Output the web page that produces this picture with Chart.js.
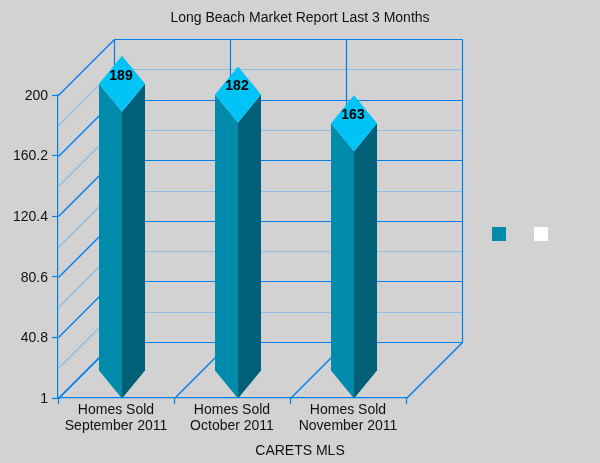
<!DOCTYPE html>
<html>
<head>
<meta charset="utf-8">
<title>Long Beach Market Report</title>
<script src="https://cdn.jsdelivr.net/npm/chart.js@4"></script>
<style>
    html, body { margin: 0; padding: 0; background: #d2d2d2; }
    canvas { display: block; }
</style>
</head>
<body>
<canvas id="chart" width="600" height="463"></canvas>
<script>
const categories = [
    ['Homes Sold', 'September 2011'],
    ['Homes Sold', 'October 2011'],
    ['Homes Sold', 'November 2011'],
];
const homesSold = [189, 182, 163];
const yTicks = [1, 40.8, 80.6, 120.4, 160.2, 200];
const legendColors = ['#008bab', '#ffffff'];

const FONT = '"Liberation Sans", Arial, sans-serif';
const GRID_MAJOR = '#0080ee';
const GRID_MINOR = '#90bde4';
const FACE_LEFT = '#008bab';
const FACE_RIGHT = '#006078';
const FACE_TOP = '#00c4f5';
const DEPTH = 56;       // how far the back wall sits from the front plane
const BAR_SHIFT = 6;    // prisms stand slightly right of the band centre

function line(ctx, x1, y1, x2, y2, color) {
    ctx.strokeStyle = color;
    // diagonals need a little more weight to read as heavy as the straight lines
    ctx.lineWidth = x1 !== x2 && y1 !== y2 ? 1.5 : 1.2;
    ctx.beginPath();
    ctx.moveTo(x1 + 0.5, y1 + 0.5);
    ctx.lineTo(x2 + 0.5, y2 + 0.5);
    ctx.stroke();
}

function poly(ctx, color, points) {
    ctx.fillStyle = color;
    ctx.beginPath();
    points.forEach(([x, y], i) => i ? ctx.lineTo(x, y) : ctx.moveTo(x, y));
    ctx.closePath();
    ctx.fill();
}

// Side wall, back wall and floor behind the bars
const walls = {
    id: 'walls',
    beforeDatasetsDraw(chart) {
        const { ctx, chartArea: area, scales: { y } } = chart;
        const backLeft = area.left + DEPTH;
        const backRight = area.right + DEPTH;

        const drawLevel = (value, color) => {
            const py = Math.round(y.getPixelForValue(value));
            line(ctx, area.left, py, backLeft, py - DEPTH, color);
            line(ctx, backLeft, py - DEPTH, backRight, py - DEPTH, color);
        };

        yTicks.slice(1).forEach((tick, i) => drawLevel((tick + yTicks[i]) / 2, GRID_MINOR));
        yTicks.forEach(tick => drawLevel(tick, GRID_MAJOR));

        const bottom = Math.round(y.getPixelForValue(yTicks[0]));
        const top = Math.round(y.getPixelForValue(yTicks[yTicks.length - 1]));
        const band = (area.right - area.left) / categories.length;
        for (let i = 0; i <= categories.length; i++) {
            const px = area.left + band * i;
            line(ctx, px, bottom, px + DEPTH, bottom - DEPTH, GRID_MAJOR);
            line(ctx, px + DEPTH, bottom - DEPTH, px + DEPTH, top - DEPTH, GRID_MAJOR);
        }
    },
};

// Each bar element is drawn as a diamond prism with its value on the cap
const prisms = {
    id: 'prisms',
    afterDatasetsDraw(chart) {
        const { ctx } = chart;
        const capHeight = DEPTH / 2;
        chart.getDatasetMeta(0).data.forEach((bar, i) => {
            const cx = bar.x + BAR_SHIFT;
            const half = bar.width / 2;
            const front = bar.y;
            const base = bar.base - 1;

            poly(ctx, FACE_LEFT, [[cx - half, front - capHeight], [cx, front], [cx, base], [cx - half, base - capHeight]]);
            poly(ctx, FACE_RIGHT, [[cx + half, front - capHeight], [cx, front], [cx, base], [cx + half, base - capHeight]]);
            poly(ctx, FACE_TOP, [[cx - half, front - capHeight], [cx, front - DEPTH], [cx + half, front - capHeight], [cx, front]]);

            ctx.fillStyle = '#000';
            ctx.font = 'bold 14px ' + FONT;
            ctx.textAlign = 'center';
            ctx.textBaseline = 'middle';
            ctx.fillText(homesSold[i], cx - 1, front - 36);
        });
    },
};

// Colour keys at the right, they carry no text
const legendKeys = {
    id: 'legendKeys',
    afterDraw(chart) {
        const { ctx } = chart;
        legendColors.forEach((color, i) => {
            ctx.fillStyle = color;
            ctx.fillRect(492 + i * 42, 227, 14, 14);
        });
    },
};

new Chart(document.getElementById('chart'), {
    type: 'bar',
    data: {
        labels: categories,
        datasets: [{
            data: homesSold,
            backgroundColor: 'rgba(0,0,0,0)',
            barPercentage: 46 / 116,
            categoryPercentage: 1,
        }],
    },
    options: {
        responsive: false,
        animation: false,
        scales: {
            x: {
                afterFit: scale => { scale.height = 45; },
                grid: { drawOnChartArea: false, color: GRID_MAJOR, tickLength: 6, tickWidth: 1.2 },
                border: { color: GRID_MAJOR, width: 1.2 },
                ticks: {
                    color: '#111',
                    font: { family: FONT, size: 14, lineHeight: 16 / 14 },
                    maxRotation: 0,
                    padding: -2,
                },
            },
            y: {
                min: 1,
                max: 200,
                afterFit: scale => { scale.width = 58; },
                afterBuildTicks: scale => { scale.ticks = yTicks.map(value => ({ value })); },
                grid: { drawOnChartArea: false, color: GRID_MAJOR, tickLength: 6, tickWidth: 1.2 },
                border: { color: GRID_MAJOR, width: 1.2 },
                ticks: {
                    color: '#111',
                    font: { family: FONT, size: 14 },
                    padding: 4,
                    labelOffset: 1,
                    callback: value => String(value),
                },
            },
            // empty axis, keeps the strip for the colour keys free
            keyStrip: {
                position: 'right',
                afterFit: scale => { scale.width = 194; },
                grid: { display: false },
                border: { display: false },
                ticks: { display: false },
            },
        },
        plugins: {
            legend: { display: false },
            tooltip: { enabled: false },
            title: {
                display: true,
                text: 'Long Beach Market Report Last 3 Months',
                color: '#111',
                font: { family: FONT, size: 14, weight: 'normal', lineHeight: 16 / 14 },
                padding: { top: 10, bottom: 69 },
            },
            subtitle: {
                display: true,
                position: 'bottom',
                text: 'CARETS MLS',
                color: '#111',
                font: { family: FONT, size: 14, weight: 'normal', lineHeight: 16 / 14 },
                padding: { top: 0, bottom: 4 },
            },
        },
    },
    plugins: [walls, prisms, legendKeys],
});
</script>
</body>
</html>
